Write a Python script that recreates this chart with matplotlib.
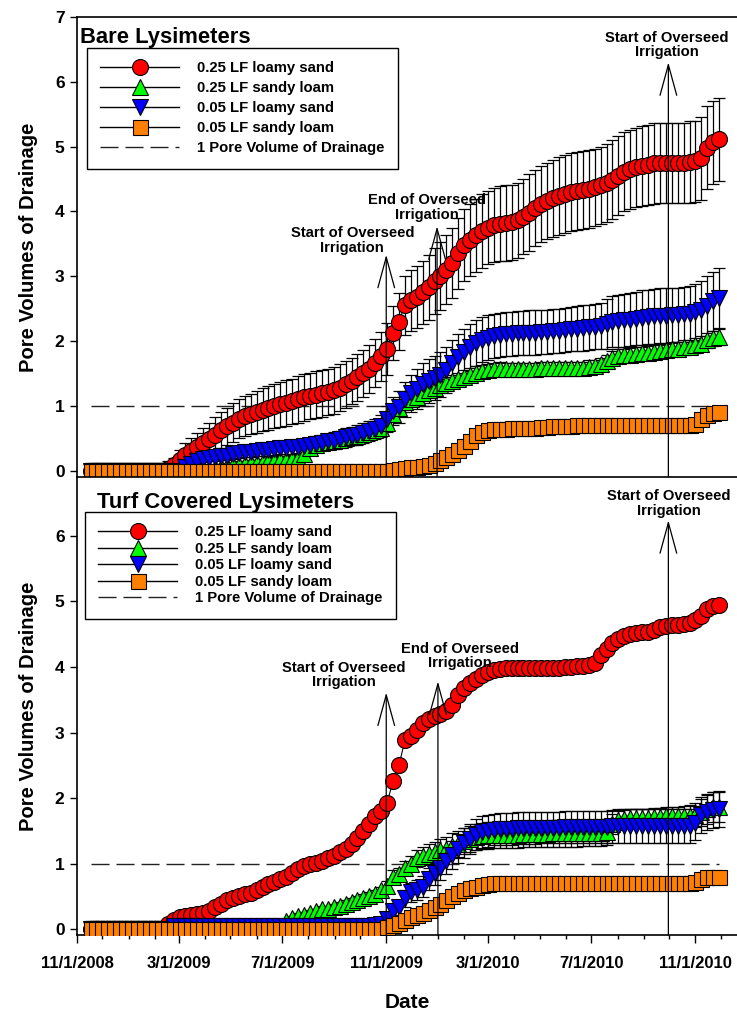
import pandas as pd
import matplotlib
matplotlib.use("Agg")
import matplotlib.pyplot as plt
import matplotlib.dates as mdates
from matplotlib.lines import Line2D
from matplotlib.ticker import FuncFormatter

plt.rcParams["font.family"] = ["Liberation Sans", "DejaVu Sans"]
plt.rcParams["font.weight"] = "bold"

# weekly sampling dates
dates = pd.date_range("2008-11-17", periods=107, freq="7D")

labels = ["0.25 LF loamy sand", "0.25 LF sandy loam",
          "0.05 LF loamy sand", "0.05 LF sandy loam"]
ref_label = "1 Pore Volume of Drainage"

# ---- Bare lysimeters ----
bare_ls25 = [0, 0, 0, 0, 0, 0, 0, 0, 0, 0,
             0, 0, 0, 0.03, 0.08, 0.17, 0.24, 0.30, 0.36, 0.42,
             0.48, 0.55, 0.62, 0.68, 0.74, 0.80, 0.84, 0.87, 0.90, 0.94,
             0.97, 1.00, 1.02, 1.04, 1.07, 1.10, 1.13, 1.15, 1.17, 1.19,
             1.21, 1.24, 1.28, 1.33, 1.38, 1.44, 1.50, 1.57, 1.66, 1.76,
             1.88, 2.12, 2.30, 2.55, 2.63, 2.68, 2.75, 2.83, 2.92, 3.00,
             3.10, 3.20, 3.35, 3.48, 3.56, 3.63, 3.70, 3.75, 3.79, 3.81,
             3.82, 3.83, 3.86, 3.92, 3.98, 4.05, 4.11, 4.16, 4.20, 4.24,
             4.27, 4.30, 4.32, 4.33, 4.35, 4.37, 4.40, 4.44, 4.49, 4.55,
             4.61, 4.65, 4.68, 4.70, 4.72, 4.74, 4.75, 4.75, 4.75, 4.75,
             4.75, 4.76, 4.77, 4.82, 4.98, 5.07, 5.11]
bare_ls25_err = [0.11, 0.11, 0.11, 0.11, 0.11, 0.11, 0.11, 0.11, 0.11, 0.11,
                 0.11, 0.11, 0.11, 0.11, 0.12, 0.15, 0.18, 0.20, 0.22, 0.24,
                 0.26, 0.27, 0.28, 0.29, 0.30, 0.30, 0.31, 0.31, 0.32, 0.33,
                 0.34, 0.34, 0.35, 0.35, 0.35, 0.36, 0.36, 0.36, 0.36, 0.36,
                 0.36, 0.36, 0.36, 0.36, 0.36, 0.36, 0.36, 0.37, 0.37, 0.38,
                 0.40, 0.42, 0.44, 0.46, 0.47, 0.48, 0.49, 0.50, 0.51, 0.52,
                 0.53, 0.54, 0.55, 0.55, 0.56, 0.56, 0.57, 0.57, 0.57, 0.58,
                 0.58, 0.58, 0.58, 0.58, 0.59, 0.59, 0.59, 0.59, 0.59, 0.60,
                 0.60, 0.60, 0.60, 0.60, 0.60, 0.60, 0.60, 0.60, 0.61, 0.61,
                 0.61, 0.61, 0.61, 0.61, 0.62, 0.62, 0.62, 0.62, 0.62, 0.62,
                 0.62, 0.63, 0.63, 0.64, 0.64, 0.64, 0.64]
bare_sl25 = [0, 0, 0, 0, 0, 0, 0, 0, 0, 0,
             0, 0, 0, 0, 0, 0, 0, 0, 0, 0,
             0.02, 0.04, 0.06, 0.07, 0.08, 0.09, 0.10, 0.11, 0.12, 0.13,
             0.14, 0.15, 0.16, 0.17, 0.18, 0.19, 0.26, 0.34, 0.39, 0.42,
             0.44, 0.45, 0.47, 0.50, 0.52, 0.54, 0.57, 0.60, 0.63, 0.66,
             0.74, 0.87, 0.96, 1.05, 1.10, 1.14, 1.19, 1.24, 1.28, 1.32,
             1.35, 1.38, 1.41, 1.45, 1.48, 1.51, 1.53, 1.55, 1.56, 1.57,
             1.57, 1.57, 1.57, 1.57, 1.57, 1.57, 1.58, 1.58, 1.58, 1.58,
             1.58, 1.59, 1.59, 1.59, 1.60, 1.61, 1.64, 1.69, 1.74, 1.77,
             1.78, 1.79, 1.80, 1.81, 1.82, 1.83, 1.84, 1.86, 1.87, 1.88,
             1.90, 1.91, 1.93, 1.96, 2.01, 2.04, 2.06]
bare_sl25_err = [0, 0, 0, 0, 0, 0, 0, 0, 0, 0,
                 0, 0, 0, 0, 0, 0, 0, 0, 0, 0,
                 0.03, 0.03, 0.04, 0.04, 0.04, 0.05, 0.05, 0.05, 0.05, 0.05,
                 0.06, 0.06, 0.06, 0.06, 0.06, 0.06, 0.06, 0.06, 0.06, 0.06,
                 0.06, 0.07, 0.07, 0.07, 0.08, 0.08, 0.08, 0.08, 0.09, 0.09,
                 0.10, 0.10, 0.10, 0.10, 0.10, 0.10, 0.10, 0.10, 0.10, 0.10,
                 0.10, 0.10, 0.10, 0.10, 0.10, 0.10, 0.10, 0.10, 0.10, 0.10,
                 0.09, 0.09, 0.09, 0.09, 0.09, 0.09, 0.09, 0.09, 0.09, 0.09,
                 0.09, 0.09, 0.09, 0.09, 0.10, 0.10, 0.10, 0.10, 0.10, 0.10,
                 0.10, 0.10, 0.10, 0.10, 0.10, 0.10, 0.10, 0.10, 0.10, 0.10,
                 0.11, 0.11, 0.11, 0.12, 0.12, 0.12, 0.12]
bare_ls05 = [0, 0, 0, 0, 0, 0, 0, 0, 0, 0,
             0, 0, 0, 0, 0, 0, 0.05, 0.10, 0.14, 0.18,
             0.19, 0.21, 0.22, 0.23, 0.25, 0.27, 0.28, 0.29, 0.30, 0.31,
             0.32, 0.33, 0.34, 0.35, 0.36, 0.37, 0.38, 0.39, 0.41, 0.43,
             0.45, 0.46, 0.48, 0.51, 0.53, 0.55, 0.58, 0.61, 0.64, 0.68,
             0.80, 0.92, 0.98, 1.10, 1.19, 1.26, 1.33, 1.38, 1.43, 1.48,
             1.55, 1.66, 1.75, 1.83, 1.90, 1.97, 2.02, 2.05, 2.07, 2.09,
             2.10, 2.11, 2.12, 2.12, 2.13, 2.13, 2.14, 2.14, 2.15, 2.16,
             2.17, 2.18, 2.19, 2.20, 2.21, 2.22, 2.23, 2.26, 2.30, 2.31,
             2.32, 2.33, 2.34, 2.36, 2.37, 2.38, 2.39, 2.39, 2.40, 2.40,
             2.41, 2.42, 2.44, 2.47, 2.54, 2.61, 2.66]
bare_ls05_err = [0, 0, 0, 0, 0, 0, 0, 0, 0, 0,
                 0, 0, 0, 0, 0, 0, 0.03, 0.04, 0.05, 0.05,
                 0.05, 0.06, 0.06, 0.06, 0.07, 0.07, 0.07, 0.08, 0.08, 0.08,
                 0.09, 0.09, 0.09, 0.10, 0.10, 0.10, 0.11, 0.11, 0.12, 0.12,
                 0.12, 0.13, 0.13, 0.14, 0.14, 0.15, 0.15, 0.16, 0.16, 0.17,
                 0.20, 0.22, 0.25, 0.27, 0.29, 0.31, 0.33, 0.34, 0.34, 0.35,
                 0.35, 0.35, 0.36, 0.36, 0.36, 0.35, 0.35, 0.35, 0.34, 0.34,
                 0.34, 0.34, 0.34, 0.34, 0.34, 0.34, 0.34, 0.34, 0.34, 0.34,
                 0.34, 0.34, 0.35, 0.35, 0.35, 0.35, 0.36, 0.38, 0.40, 0.40,
                 0.41, 0.41, 0.41, 0.42, 0.42, 0.42, 0.42, 0.42, 0.42, 0.42,
                 0.43, 0.43, 0.44, 0.45, 0.46, 0.46, 0.46]
bare_sl05 = [0, 0, 0, 0, 0, 0, 0, 0, 0, 0,
             0, 0, 0, 0, 0, 0, 0, 0, 0, 0,
             0, 0, 0, 0, 0, 0, 0, 0, 0, 0,
             0, 0, 0, 0, 0, 0, 0, 0, 0, 0,
             0, 0, 0, 0, 0, 0, 0, 0, 0, 0,
             0.00, 0.01, 0.02, 0.04, 0.05, 0.06, 0.07, 0.09, 0.12, 0.17,
             0.21, 0.25, 0.31, 0.38, 0.46, 0.55, 0.60, 0.63, 0.64, 0.64,
             0.64, 0.65, 0.65, 0.65, 0.66, 0.66, 0.67, 0.67, 0.68, 0.68,
             0.69, 0.69, 0.70, 0.70, 0.70, 0.70, 0.70, 0.70, 0.70, 0.70,
             0.70, 0.70, 0.70, 0.70, 0.70, 0.70, 0.70, 0.71, 0.71, 0.71,
             0.71, 0.71, 0.72, 0.80, 0.86, 0.89, 0.90]

# ---- Turf covered lysimeters ----
turf_ls25 = [0, 0, 0, 0, 0, 0, 0, 0, 0, 0,
             0, 0, 0, 0.08, 0.14, 0.18, 0.20, 0.21, 0.23, 0.25,
             0.28, 0.33, 0.39, 0.44, 0.48, 0.51, 0.53, 0.55, 0.60, 0.65,
             0.69, 0.72, 0.76, 0.80, 0.86, 0.92, 0.96, 0.99, 1.01, 1.04,
             1.08, 1.12, 1.17, 1.23, 1.30, 1.39, 1.49, 1.61, 1.72, 1.80,
             1.93, 2.26, 2.50, 2.88, 2.95, 3.04, 3.14, 3.21, 3.26, 3.29,
             3.33, 3.42, 3.57, 3.68, 3.76, 3.82, 3.88, 3.93, 3.96, 3.97,
             3.98, 3.98, 3.98, 3.98, 3.98, 3.98, 3.98, 3.99, 3.99, 3.99,
             4.00, 4.00, 4.01, 4.02, 4.03, 4.06, 4.18, 4.28, 4.36, 4.42,
             4.47, 4.50, 4.52, 4.53, 4.54, 4.57, 4.61, 4.63, 4.64, 4.64,
             4.65, 4.67, 4.71, 4.78, 4.88, 4.93, 4.95]
turf_sl25 = [0, 0, 0, 0, 0, 0, 0, 0, 0, 0,
             0, 0, 0, 0, 0, 0, 0, 0, 0, 0,
             0, 0, 0, 0, 0, 0, 0, 0, 0, 0,
             0, 0, 0, 0.12, 0.17, 0.20, 0.22, 0.25, 0.27, 0.30,
             0.31, 0.33, 0.36, 0.39, 0.42, 0.45, 0.48, 0.51, 0.54, 0.60,
             0.66, 0.80, 0.84, 0.93, 1.00, 1.08, 1.12, 1.15, 1.17, 1.20,
             1.23, 1.27, 1.30, 1.34, 1.37, 1.40, 1.42, 1.43, 1.44, 1.44,
             1.44, 1.44, 1.44, 1.45, 1.45, 1.45, 1.45, 1.45, 1.46, 1.46,
             1.46, 1.46, 1.46, 1.47, 1.47, 1.47, 1.47, 1.48, 1.60, 1.66,
             1.68, 1.69, 1.69, 1.70, 1.70, 1.71, 1.71, 1.72, 1.72, 1.73,
             1.73, 1.73, 1.74, 1.78, 1.83, 1.86, 1.87]
turf_sl25_err = [0, 0, 0, 0, 0, 0, 0, 0, 0, 0,
                 0, 0, 0, 0, 0, 0, 0, 0, 0, 0,
                 0, 0, 0, 0, 0, 0, 0, 0, 0, 0,
                 0, 0, 0, 0.03, 0.03, 0.04, 0.04, 0.04, 0.04, 0.05,
                 0.05, 0.05, 0.05, 0.05, 0.05, 0.05, 0.05, 0.05, 0.05, 0.05,
                 0.08, 0.10, 0.10, 0.11, 0.12, 0.13, 0.14, 0.15, 0.16, 0.17,
                 0.18, 0.19, 0.20, 0.20, 0.20, 0.20, 0.20, 0.20, 0.20, 0.20,
                 0.20, 0.20, 0.20, 0.20, 0.20, 0.20, 0.20, 0.20, 0.20, 0.20,
                 0.20, 0.20, 0.20, 0.20, 0.20, 0.20, 0.20, 0.20, 0.15, 0.14,
                 0.14, 0.14, 0.14, 0.14, 0.14, 0.14, 0.14, 0.14, 0.14, 0.14,
                 0.15, 0.16, 0.18, 0.20, 0.22, 0.23, 0.24]
turf_ls05 = [0, 0, 0, 0, 0, 0, 0, 0, 0, 0,
             0, 0, 0, 0, 0.04, 0.05, 0.05, 0.05, 0.05, 0.05,
             0.05, 0.05, 0.05, 0.05, 0.05, 0.05, 0.05, 0.05, 0.05, 0.05,
             0.05, 0.05, 0.05, 0.05, 0.05, 0.05, 0.05, 0.05, 0.05, 0.05,
             0.05, 0.05, 0.05, 0.05, 0.05, 0.05, 0.05, 0.05, 0.06, 0.08,
             0.15, 0.27, 0.33, 0.47, 0.56, 0.60, 0.65, 0.77, 0.85, 0.94,
             1.04, 1.13, 1.23, 1.31, 1.37, 1.44, 1.48, 1.50, 1.52, 1.53,
             1.53, 1.53, 1.54, 1.54, 1.54, 1.54, 1.55, 1.55, 1.55, 1.55,
             1.56, 1.56, 1.56, 1.56, 1.56, 1.56, 1.56, 1.56, 1.57, 1.57,
             1.57, 1.57, 1.57, 1.57, 1.57, 1.57, 1.57, 1.57, 1.58, 1.58,
             1.58, 1.58, 1.62, 1.74, 1.79, 1.82, 1.83]
turf_ls05_err = [0.13, 0.13, 0.13, 0.13, 0.13, 0.13, 0.13, 0.13, 0.13, 0.13,
                 0.13, 0.13, 0.13, 0.13, 0.08, 0.08, 0.08, 0.08, 0.08, 0.08,
                 0.08, 0.08, 0.08, 0.08, 0.08, 0.08, 0.08, 0.08, 0.08, 0.08,
                 0.08, 0.08, 0.08, 0.08, 0.08, 0.08, 0.08, 0.08, 0.08, 0.08,
                 0.08, 0.08, 0.08, 0.08, 0.08, 0.08, 0.08, 0.08, 0.08, 0.08,
                 0.10, 0.11, 0.12, 0.13, 0.14, 0.15, 0.16, 0.17, 0.18, 0.19,
                 0.20, 0.21, 0.22, 0.23, 0.23, 0.24, 0.24, 0.24, 0.24, 0.24,
                 0.24, 0.24, 0.24, 0.24, 0.24, 0.24, 0.24, 0.24, 0.24, 0.24,
                 0.24, 0.24, 0.24, 0.24, 0.25, 0.25, 0.25, 0.25, 0.25, 0.26,
                 0.26, 0.26, 0.26, 0.26, 0.26, 0.26, 0.26, 0.26, 0.26, 0.26,
                 0.26, 0.26, 0.26, 0.27, 0.27, 0.27, 0.27]
turf_sl05 = [0, 0, 0, 0, 0, 0, 0, 0, 0, 0,
             0, 0, 0, 0, 0, 0, 0, 0, 0, 0,
             0, 0, 0, 0, 0, 0, 0, 0, 0, 0,
             0, 0, 0, 0, 0, 0, 0, 0, 0, 0,
             0, 0, 0, 0, 0, 0, 0, 0, 0, 0,
             0.03, 0.06, 0.09, 0.14, 0.18, 0.21, 0.25, 0.29, 0.33, 0.39,
             0.45, 0.50, 0.55, 0.59, 0.62, 0.64, 0.67, 0.69, 0.70, 0.70,
             0.70, 0.70, 0.70, 0.70, 0.70, 0.70, 0.70, 0.70, 0.70, 0.70,
             0.70, 0.70, 0.70, 0.70, 0.70, 0.70, 0.70, 0.70, 0.70, 0.70,
             0.70, 0.70, 0.70, 0.70, 0.70, 0.70, 0.70, 0.70, 0.70, 0.70,
             0.70, 0.70, 0.72, 0.77, 0.79, 0.80, 0.80]

# event markers: (arrow date, arrow tip, text, text date, text bottom)
bare_events = [
    ("2009-11-01", 3.33, "Start of Overseed\nIrrigation", "2009-09-22", 3.33),
    ("2009-12-31", 3.77, "End of Overseed\nIrrigation", "2009-12-19", 3.84),
    ("2010-09-30", 6.30, "Start of Overseed\nIrrigation", "2010-09-28", 6.35),
]
turf_events = [
    ("2009-11-01", 3.61, "Start of Overseed\nIrrigation", "2009-09-12", 3.66),
    ("2010-01-01", 3.78, "End of Overseed\nIrrigation", "2010-01-27", 3.95),
    ("2010-09-30", 6.24, "Start of Overseed\nIrrigation", "2010-10-01", 6.28),
]

markers = ["o", "^", "v", "s"]
colors = ["#FF0000", "#00FF00", "#0000FF", "#FF8000"]
sizes = [11.5, 11.5, 11.5, 10.8]


def draw_panel(ax, series, errors, events):
    for vals, err in zip(series, errors):
        if err is not None:
            ax.errorbar(dates, vals, yerr=err, fmt="none", ecolor="black",
                        elinewidth=0.9, capsize=4, capthick=0.9, zorder=2)
    ax.plot([dates[0], dates[-1]], [1, 1], color="#222222", lw=1,
            dashes=(13, 5), zorder=1.5)
    for vals, mk, col, ms in zip(series, markers, colors, sizes):
        ax.plot(dates, vals, color="black", lw=0.8, marker=mk, ms=ms,
                mfc=col, mec="black", mew=0.8, zorder=3)
    for xd, tip, txt, td, ty in events:
        x = pd.Timestamp(xd)
        ax.annotate("", xy=(x, tip), xytext=(x, 0),
                    textcoords=("data", "axes fraction"),
                    arrowprops=dict(arrowstyle="->,head_length=2.2,head_width=0.6",
                                    lw=0.9, color="black",
                                    shrinkA=0, shrinkB=0),
                    zorder=5)
        ax.text(pd.Timestamp(td), ty, txt, ha="center", va="bottom",
                fontsize=10.6, fontweight="bold", multialignment="center",
                linespacing=1.05, zorder=6)


def add_legend(ax, x, y, spacing):
    handles = [Line2D([], [], color="black", lw=1, marker=mk, ms=ms,
                      mfc=col, mec="black", mew=0.8)
               for mk, col, ms in zip(markers, colors, sizes)]
    handles.append(Line2D([], [], color="#222222", lw=1, dashes=(13, 5)))
    leg = ax.legend(handles, labels + [ref_label], loc="upper left",
                    bbox_to_anchor=(x, y), bbox_transform=fig.transFigure,
                    borderaxespad=0, prop={"weight": "bold", "size": 10.7},
                    handlelength=5.3, handletextpad=1.2, borderpad=0.9,
                    labelspacing=spacing, numpoints=1, fancybox=False,
                    framealpha=1, edgecolor="black")
    leg.get_frame().set_linewidth(1.0)
    leg.set_zorder(10)


W, H = 737, 1013
fig = plt.figure(figsize=(W / 100, H / 100), dpi=100)
ax1 = fig.add_axes([77 / W, 1 - 477 / H, 1 - 77 / W, (477 - 17) / H])
ax2 = fig.add_axes([77 / W, 1 - 935 / H, 1 - 77 / W, (935 - 477) / H])

draw_panel(ax1, [bare_ls25, bare_sl25, bare_ls05, bare_sl05],
           [bare_ls25_err, bare_sl25_err, bare_ls05_err, None], bare_events)
draw_panel(ax2, [turf_ls25, turf_sl25, turf_ls05, turf_sl05],
           [None, turf_sl25_err, turf_ls05_err, None], turf_events)

add_legend(ax1, 87 / W, 1 - 48 / H, 0.4)
add_legend(ax2, 85 / W, 1 - 512 / H, 0.17)

fig.text(80 / W, 1 - 43 / H, "Bare Lysimeters", fontsize=15.8,
         fontweight="bold", va="baseline")
fig.text(97 / W, 1 - 508 / H, "Turf Covered Lysimeters", fontsize=15.8,
         fontweight="bold", va="baseline")


def fmt_date(x, pos):
    d = mdates.num2date(x)
    return f"{d.month}/{d.day}/{d.year}"


for ax in (ax1, ax2):
    ax.set_xlim(pd.Timestamp("2008-11-01"), pd.Timestamp("2010-12-20"))
    ax.spines["right"].set_visible(False)
    for s in ("left", "top", "bottom"):
        ax.spines[s].set_linewidth(1.2)
    ax.xaxis.set_major_locator(mdates.MonthLocator(bymonth=[3, 7, 11]))
    ax.xaxis.set_minor_locator(mdates.MonthLocator())
    ax.xaxis.set_major_formatter(FuncFormatter(fmt_date))
    ax.tick_params(axis="y", direction="out", length=5, width=1,
                   labelsize=12.5, pad=4)
    ax.set_ylabel("Pore Volumes of Drainage", fontsize=14.5,
                  fontweight="bold", labelpad=12)
    for lab in ax.get_yticklabels():
        lab.set_fontweight("bold")

ax1.set_ylim(-0.1, 7)
ax1.set_yticks(range(0, 8))
ax1.spines["bottom"].set_visible(False)
ax1.tick_params(axis="x", which="both", length=0, labelbottom=False)

ax2.set_ylim(-0.09, 6.9)
ax2.set_yticks(range(0, 7))
ax2.tick_params(axis="x", which="major", direction="out", length=6,
                width=1, labelsize=12, pad=9)
ax2.tick_params(axis="x", which="minor", direction="out", length=3, width=1)
ax2.set_xlabel("Date", fontsize=15, fontweight="bold", labelpad=16)

fig.savefig("out.png", dpi=100)
